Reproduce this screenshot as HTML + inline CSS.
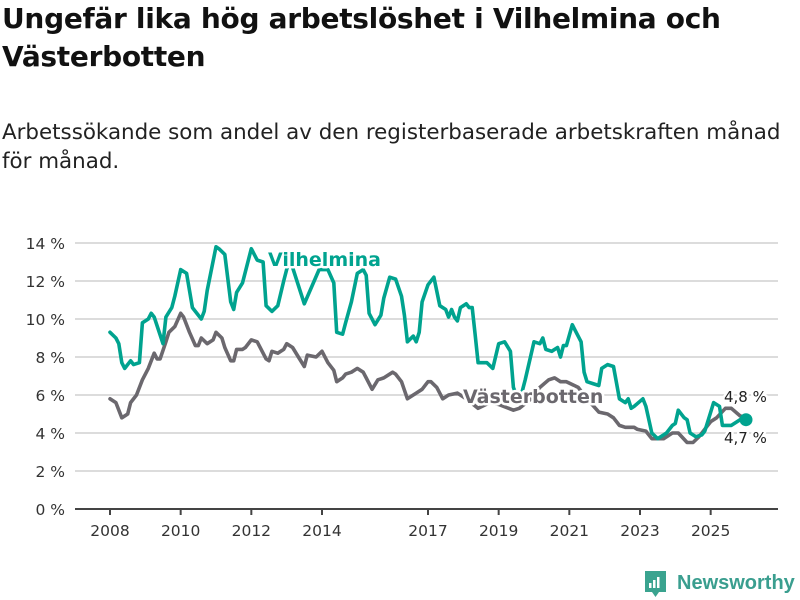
<!DOCTYPE html>
<html><head><meta charset="utf-8">
<style>
body{margin:0;background:#fff;width:800px;height:600px;overflow:hidden;font-family:"Liberation Sans","DejaVu Sans",sans-serif;}
h1{position:absolute;left:2px;top:0;margin:0;font-size:28px;line-height:38px;font-weight:bold;color:#111;width:795px;font-family:"DejaVu Sans","Liberation Sans",sans-serif;letter-spacing:-0.3px}
p.sub{position:absolute;left:2px;top:118px;margin:0;font-size:21.4px;line-height:29px;color:#222;width:798px;white-space:nowrap;font-family:"DejaVu Sans","Liberation Sans",sans-serif;letter-spacing:0px}
svg{position:absolute;left:0;top:0}
</style></head><body>
<h1>Ungefär lika hög arbetslöshet i Vilhelmina och Västerbotten</h1>
<p class="sub">Arbetssökande som andel av den registerbaserade arbetskraften månad<br>för månad.</p>
<svg id="chart" width="800" height="600"></svg>
<script>
const yTicks=[0,2,4,6,8,10,12,14];
const xTickYears=[2008,2010,2012,2014,2017,2019,2021,2023,2025];
const vilMonths=[0,2,3,4,5,7,8,10,11,13,14,15,18,19,21,22,24,26,28,31,32,33,36,37,39,41,42,43,45,48,50,52,53,55,57,59,61,66,71,74,76,77,79,80,82,84,86,87,88,90,92,93,95,97,99,100,101,103,104,105,106,108,110,112,114,115,116,117,118,119,121,122,123,124,125,128,130,132,134,136,137,139,141,144,146,147,148,150,152,153,154,155,157,158,160,161,162,164,166,167,169,171,173,175,176,177,178,181,182,184,186,188,189,191,192,193,195,196,197,199,201,202,204,205,207,208,211,215,216];
const vilValues=[9.3,9.0,8.7,7.7,7.4,7.8,7.6,7.7,9.8,10.0,10.3,10.1,8.7,10.1,10.6,11.2,12.6,12.4,10.6,10.0,10.4,11.5,13.8,13.7,13.4,10.9,10.5,11.4,11.9,13.7,13.1,13.0,10.7,10.4,10.7,12.0,13.2,10.8,12.6,12.6,11.9,9.3,9.2,9.8,10.9,12.4,12.6,12.3,10.3,9.7,10.2,11.1,12.2,12.1,11.2,10.2,8.8,9.1,8.8,9.3,10.9,11.8,12.2,10.7,10.5,10.1,10.5,10.1,9.9,10.6,10.8,10.6,10.6,9.2,7.7,7.7,7.4,8.7,8.8,8.3,6.4,5.6,6.8,8.8,8.7,9.0,8.4,8.3,8.5,8.0,8.6,8.6,9.7,9.4,8.8,7.2,6.7,6.6,6.5,7.4,7.6,7.5,5.8,5.6,5.8,5.3,5.4,5.8,5.4,4.0,3.7,3.9,4.0,4.4,4.5,5.2,4.8,4.7,4.0,3.8,3.9,4.1,5.1,5.6,5.4,4.4,4.4,4.8,4.7];
const vbMonths=[0,2,4,6,7,9,11,13,15,16,17,19,20,22,24,25,27,29,30,31,33,35,36,38,39,41,42,43,45,46,48,50,53,54,55,57,59,60,62,64,66,67,70,72,74,76,77,79,80,82,84,86,87,89,91,93,96,97,99,101,104,106,108,109,111,113,115,118,121,125,129,132,137,139,143,146,149,151,153,155,159,162,166,169,171,173,175,178,179,182,184,188,191,193,196,198,200,202,204,206,209,211,214,216];
const vbValues=[5.8,5.6,4.8,5.0,5.6,6.0,6.8,7.4,8.2,7.9,7.9,8.8,9.3,9.6,10.3,10.1,9.3,8.6,8.6,9.0,8.7,8.9,9.3,9.0,8.5,7.8,7.8,8.4,8.4,8.5,8.9,8.8,7.9,7.8,8.3,8.2,8.4,8.7,8.5,8.0,7.5,8.1,8.0,8.3,7.7,7.3,6.7,6.9,7.1,7.2,7.4,7.2,6.9,6.3,6.8,6.9,7.2,7.1,6.7,5.8,6.1,6.3,6.7,6.7,6.4,5.8,6.0,6.1,5.8,5.3,5.6,5.5,5.2,5.3,5.8,6.4,6.8,6.9,6.7,6.7,6.4,5.8,5.1,5.0,4.8,4.4,4.3,4.3,4.2,4.1,3.7,3.7,4.0,4.0,3.5,3.5,3.8,4.2,4.6,4.8,5.3,5.3,4.9,4.8];
const lastLabels=["4,8 %","4,7 %"];

const NS="http://www.w3.org/2000/svg";
const svg=document.getElementById('chart');
const X0=110, MPX=(746-110)/216;
const xm=m=>X0+m*MPX;
const xy=yr=>xm((yr-2008)*12);
const yv=v=>509-v*19;
function mk(tag,attrs,parent){const e=document.createElementNS(NS,tag);for(const k in attrs)e.setAttribute(k,attrs[k]);(parent||svg).appendChild(e);return e;}

yTicks.forEach(t=>{
  if(t>0){const g=mk('line',{x1:75,x2:778,y1:yv(t),y2:yv(t),stroke:'#dcdcdc','stroke-width':2});
  
  }
  const tx=mk('text',{x:65,y:yv(t)+6,'text-anchor':'end','font-size':15.5,fill:'#333','font-family':'DejaVu Sans, Liberation Sans, sans-serif'});
  tx.textContent=t+' %';
  
  
});
const ax=mk('line',{x1:75,x2:778,y1:509,y2:509,stroke:'#444','stroke-width':2});


xTickYears.forEach(yr=>{
  const x=xy(yr);
  const tk=mk('line',{x1:x,x2:x,y1:509,y2:515,stroke:'#444','stroke-width':2});
  
  
  const tx=mk('text',{x:x,y:536,'text-anchor':'middle','font-size':15.5,fill:'#333','font-family':'DejaVu Sans, Liberation Sans, sans-serif'});
  tx.textContent=yr;
  
  
});
function line(ms,vs,color,name){
  const d=ms.map((m,i)=>(i?'L':'M')+xm(m).toFixed(1)+','+yv(vs[i]).toFixed(1)).join(' ');
  const p=mk('path',{d:d,fill:'none',stroke:color,'stroke-width':3.6,'stroke-linejoin':'round','stroke-linecap':'round'});
  
  
}
line(vbMonths,vbValues,'#6b686e','vasterbotten-line');
line(vilMonths,vilValues,'#00a38f','vilhelmina-line');
const lastM=vilMonths[vilMonths.length-1];
const dot=mk('circle',{cx:xm(lastM),cy:yv(vilValues[vilValues.length-1]),r:6.5,fill:'#00a38f'});


function lbl(x,y,txt,color,size,weight,name,anchor){
  const t=mk('text',{x:x,y:y,'font-size':size,'font-weight':weight,fill:color,stroke:'#fff','stroke-width':5,'paint-order':'stroke','stroke-linejoin':'round','text-anchor':anchor||'start','font-family':'DejaVu Sans, Liberation Sans, sans-serif'});
  t.textContent=txt;
  
  
}
lbl(268,266,'Vilhelmina','#00a38f',19,'bold','vilhelmina-label');
lbl(463,403,'Västerbotten','#6b686e',19,'bold','vasterbotten-label');
lbl(724,402,lastLabels[0],'#222',15,'normal','vasterbotten-end-value');
lbl(724,443,lastLabels[1],'#222',15,'normal','vilhelmina-end-value');
// logo
const lg=mk('g',{});


mk('path',{d:'M645,571 h21 v21 h-7 l-3.5,5 l-3.5,-5 h-7 z',fill:'#3aa38f'},lg);
mk('rect',{x:649,y:583,width:2.5,height:5,fill:'#fff'},lg);
mk('rect',{x:653,y:580,width:2.5,height:8,fill:'#fff'},lg);
mk('rect',{x:657,y:577,width:2.5,height:11,fill:'#fff'},lg);
const nt=mk('text',{x:677,y:589,'font-size':20,'font-weight':'bold',fill:'#3a9e8f','font-family':'Liberation Sans, sans-serif'},lg);
nt.textContent='Newsworthy';
</script>
</body></html>
